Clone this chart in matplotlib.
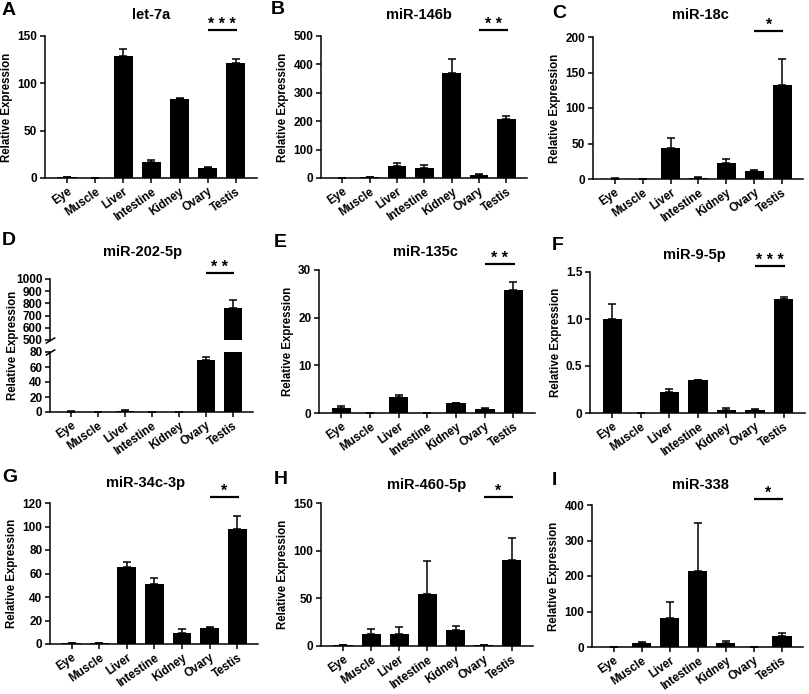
import numpy as np
import matplotlib.pyplot as plt
from matplotlib.transforms import blended_transform_factory

plt.rcParams['font.family'] = ['Liberation Sans', 'DejaVu Sans']
plt.rcParams['font.weight'] = 'bold'
plt.rcParams['axes.labelweight'] = 'bold'
plt.rcParams['axes.linewidth'] = 1.1

W, H = 809, 694

tissues = ['Eye', 'Muscle', 'Liver', 'Intestine', 'Kidney', 'Ovary', 'Testis']

# mean / upper error for each miRNA
let7a = [0.8, 0.1, 129, 17, 83.5, 10.5, 122]
let7a_err = [0.4, 0, 7, 2.5, 1, 1.5, 4]
mir146b = [0.5, 2, 42, 36, 370, 10, 208]
mir146b_err = [0.3, 1, 12, 9, 50, 5, 11]
mir18c = [0.5, 0, 44, 1.5, 22, 11, 133]
mir18c_err = [0.5, 0, 14, 1.3, 6, 1.7, 36]
mir202 = [0.5, 0, 1.5, 0, 0.3, 69, 760]
mir202_err = [0.3, 0, 0.6, 0, 0.2, 5, 70]
mir135c = [1.0, 0, 3.4, 0, 2.0, 0.9, 25.9]
mir135c_err = [0.4, 0, 0.4, 0, 0.2, 0.2, 1.6]
mir9 = [1.0, 0, 0.22, 0.35, 0.035, 0.035, 1.215]
mir9_err = [0.155, 0, 0.035, 0.005, 0.018, 0.011, 0.019]
mir34c = [0.7, 0.7, 65.5, 51.3, 9.4, 13.9, 97.9]
mir34c_err = [0.5, 0.4, 4, 4.9, 3.4, 0.9, 10.8]
mir460 = [0.8, 12.9, 12.6, 54.2, 17.1, 1.0, 90.2]
mir460_err = [0.5, 4.6, 7.7, 34.6, 4.2, 0.5, 23.4]
mir338 = [0.5, 10.3, 80.6, 215, 11.2, 0.3, 30]
mir338_err = [0.3, 4.7, 46, 135, 6.6, 0.2, 10]

titles = ['let-7a', 'miR-146b', 'miR-18c', 'miR-202-5p', 'miR-135c',
          'miR-9-5p', 'miR-34c-3p', 'miR-460-5p', 'miR-338']
letters = ['A', 'B', 'C', 'D', 'E', 'F', 'G', 'H', 'I']
stars = ['* * *', '* *', '*', '* *', '* *', '* * *', '*', '*', '*']
values = [let7a, mir146b, mir18c, mir202, mir135c, mir9, mir34c, mir460, mir338]
errors = [let7a_err, mir146b_err, mir18c_err, mir202_err, mir135c_err,
          mir9_err, mir34c_err, mir460_err, mir338_err]
yticks = [[0, 50, 100, 150], [0, 100, 200, 300, 400, 500], [0, 50, 100, 150, 200],
          None, [0, 10, 20, 30], [0, 0.5, 1.0, 1.5], [0, 20, 40, 60, 80, 100, 120],
          [0, 50, 100, 150], [0, 100, 200, 300, 400]]
yticklabels_f = ['0', '0.5', '1.0', '1.5']
d_low_ticks = [0, 20, 40, 60, 80]
d_high_ticks = [500, 600, 700, 800, 900, 1000]

# layout in pixels: (left, top, right, bottom)
boxes = [(45, 36, 257, 178), (321, 36, 527, 178), (593, 37, 803, 179),
         (50, 352, 253, 412), (319, 270, 535, 413), (590, 272, 805, 413),
         (50, 503, 258, 644), (321, 503, 533, 646), (592, 505, 803, 647)]
d_upper_box = (50, 279, 253, 340)
title_pos = [(151, 15), (419, 15), (700, 15), (143, 252), (425, 252),
             (694, 255), (146, 483), (427, 485), (700, 485)]
letter_pos = [(2, 2), (271, 1), (552, 5), (2, 232), (274, 234), (552, 237),
              (2, 469), (274, 471), (552, 472)]

fig = plt.figure(figsize=(W / 100, H / 100), dpi=100)


def add_ax(box):
    l, t, r, b = box
    return fig.add_axes([l / W, 1 - b / H, (r - l) / W, (b - t) / H])


def style(ax):
    ax.spines['top'].set_visible(False)
    ax.spines['right'].set_visible(False)
    ax.tick_params(axis='both', direction='out', length=3.5, width=1.1,
                   labelsize=8.5, pad=2)
    ax.set_xlim(-0.78, 6.75)


def draw_bars(ax, vals, errs):
    x = np.arange(len(tissues))
    ax.bar(x, vals, width=0.68, color='black', zorder=2)
    ax.errorbar(x, vals, yerr=[np.zeros(len(errs)), errs], fmt='none',
                ecolor='black', elinewidth=1.1, capsize=2.8, capthick=1.1,
                zorder=1)


def sig_bar(ax, text, px_height):
    tr = blended_transform_factory(ax.transData, ax.transAxes)
    y = 1 + 6 / px_height
    ax.plot([5, 6.05], [y, y], color='black', lw=1.6, transform=tr,
            clip_on=False, solid_capstyle='butt')
    ax.text(5.52, y - 2 / px_height, text, transform=tr, ha='center',
            va='bottom', fontsize=11.5, fontweight='bold')


x = np.arange(len(tissues))
for i in range(9):
    box = boxes[i]
    ax = add_ax(box)
    style(ax)
    draw_bars(ax, values[i], errors[i])
    ax.set_xticks(x)
    ax.set_xticklabels(tissues, rotation=35, ha='right',
                       rotation_mode='anchor', fontsize=8.4)
    if i == 3:
        ax.set_ylim(0, 80)
        ax.set_yticks(d_low_ticks)
        up = add_ax(d_upper_box)
        style(up)
        up.spines['bottom'].set_visible(False)
        up.set_xticks([])
        draw_bars(up, values[i], errors[i])
        up.set_ylim(500, 1000)
        up.set_yticks(d_high_ticks)
        kw = dict(marker=[(-1, -0.6), (1, 0.6)], markersize=7, linestyle='none',
                  color='black', mec='black', mew=1.1, clip_on=False)
        up.plot([0], [0], transform=up.transAxes, **kw)
        ax.plot([0], [1], transform=ax.transAxes, **kw)
        sig_bar(up, stars[i], d_upper_box[3] - d_upper_box[1])
        fig.text(13 / W, 1 - 345 / H, 'Relative Expression', rotation=90,
                 ha='center', va='center', fontsize=8.3, fontweight='bold')
    else:
        ax.set_ylim(yticks[i][0], yticks[i][-1])
        ax.set_yticks(yticks[i])
        if i == 5:
            ax.set_yticklabels(yticklabels_f)
        ax.set_ylabel('Relative Expression', fontsize=8.3, labelpad=3)
        sig_bar(ax, stars[i], box[3] - box[1])

    tx, ty = title_pos[i]
    fig.text(tx / W, 1 - ty / H, titles[i], ha='center', va='center',
             fontsize=10.5, fontweight='bold')
    lx, ly = letter_pos[i]
    fig.text(lx / W, 1 - ly / H, letters[i], ha='left', va='top',
             fontsize=14, fontweight='bold')

fig.savefig('out.png', dpi=100)
